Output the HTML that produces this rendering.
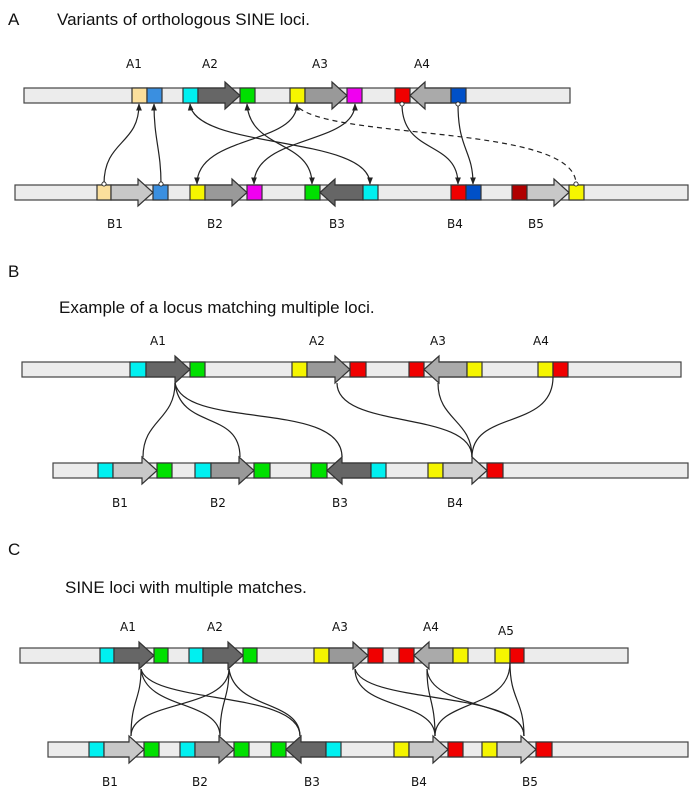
<!DOCTYPE html>
<html><head><meta charset="utf-8"><style>
html,body{margin:0;padding:0;background:#fff;}
svg{display:block;font-family:"DejaVu Sans","Liberation Sans",sans-serif;}
.bar{fill:#ececec;stroke:#444;stroke-width:1.2}
.s{stroke:#333;stroke-width:1.2}
.c{fill:none;stroke:#222;stroke-width:1.2}
.t{font-size:12px;fill:#111}
.h{font-size:17px;fill:#111;font-family:"Liberation Sans",sans-serif}
</style></head><body>
<svg width="695" height="789" viewBox="0 0 695 789" xmlns="http://www.w3.org/2000/svg">
<defs>
<marker id="ar" viewBox="0 0 10 10" refX="9" refY="5" markerWidth="6" markerHeight="6" orient="auto-start-reverse"><path d="M0,1 L10,5 L0,9 z" fill="#222"/></marker>
<marker id="ci" viewBox="0 0 10 10" refX="5" refY="5" markerWidth="5" markerHeight="5"><circle cx="5" cy="5" r="3.5" fill="#fff" stroke="#222" stroke-width="1.5"/></marker>
</defs>

<!-- Panel A -->
<text class="h" x="8" y="25">A</text>
<text class="h" x="57" y="25">Variants of orthologous SINE loci.</text>
<text class="t" x="126" y="68">A1</text><text class="t" x="202" y="68">A2</text><text class="t" x="312" y="68">A3</text><text class="t" x="414" y="68">A4</text>

<rect class="bar" x="24" y="88" width="546" height="15"/>
<rect class="s" x="132" y="88" width="15" height="15" fill="#fbdf9c"/>
<rect class="s" x="147" y="88" width="15" height="15" fill="#3a8fe0"/>
<rect class="s" x="183" y="88" width="15" height="15" fill="#00f0f0"/>
<polygon class="s" fill="#666" points="198,88 225,88 225,82 240,95.5 225,109 225,103 198,103"/>
<rect class="s" x="240" y="88" width="15" height="15" fill="#00e000"/>
<rect class="s" x="290" y="88" width="15" height="15" fill="#f5f500"/>
<polygon class="s" fill="#999" points="305,88 332,88 332,82 347,95.5 332,109 332,103 305,103"/>
<rect class="s" x="347" y="88" width="15" height="15" fill="#f000f0"/>
<rect class="s" x="395" y="88" width="15" height="15" fill="#f00000"/>
<polygon class="s" fill="#aaa" points="410,95.5 425,82 425,88 451,88 451,103 425,103 425,109"/>
<rect class="s" x="451" y="88" width="15" height="15" fill="#0050c8"/>

<rect class="bar" x="15" y="185" width="673" height="15"/>
<rect class="s" x="97" y="185" width="14" height="15" fill="#fbdf9c"/>
<polygon class="s" fill="#c8c8c8" points="111,185 138,185 138,179 153,192.5 138,206 138,200 111,200"/>
<rect class="s" x="153" y="185" width="15" height="15" fill="#3a8fe0"/>
<rect class="s" x="190" y="185" width="15" height="15" fill="#f5f500"/>
<polygon class="s" fill="#999" points="205,185 232,185 232,179 247,192.5 232,206 232,200 205,200"/>
<rect class="s" x="247" y="185" width="15" height="15" fill="#f000f0"/>
<rect class="s" x="305" y="185" width="15" height="15" fill="#00e000"/>
<polygon class="s" fill="#666" points="320,192.5 335,179 335,185 363,185 363,200 335,200 335,206"/>
<rect class="s" x="363" y="185" width="15" height="15" fill="#00f0f0"/>
<rect class="s" x="451" y="185" width="15" height="15" fill="#f00000"/>
<rect class="s" x="466" y="185" width="15" height="15" fill="#0050c8"/>
<rect class="s" x="512" y="185" width="15" height="15" fill="#b00000"/>
<polygon class="s" fill="#c8c8c8" points="527,185 554,185 554,179 569,192.5 554,206 554,200 527,200"/>
<rect class="s" x="569" y="185" width="15" height="15" fill="#f5f500"/>

<path class="c" d="M104,184 C104,140 139,145 139,104" marker-start="url(#ci)" marker-end="url(#ar)"/>
<path class="c" d="M161,184 C161,150 154,140 154,104" marker-start="url(#ci)" marker-end="url(#ar)"/>
<path class="c" d="M190,104 C195,150 370,135 370,184" marker-start="url(#ar)" marker-end="url(#ar)"/>
<path class="c" d="M247,104 C250,150 312,140 312,184" marker-start="url(#ar)" marker-end="url(#ar)"/>
<path class="c" d="M297,104 C297,145 197,135 197,184" marker-start="url(#ar)" marker-end="url(#ar)"/>
<path class="c" d="M355,104 C355,145 254,135 254,184" marker-start="url(#ar)" marker-end="url(#ar)"/>
<path class="c" d="M299,108 C340,140 576,125 576,184" stroke-dasharray="5,4" marker-end="url(#ci)"/>
<path class="c" d="M402,104 C402,155 458,140 458,184" marker-start="url(#ci)" marker-end="url(#ar)"/>
<path class="c" d="M458,104 C458,150 473,150 473,184" marker-start="url(#ci)" marker-end="url(#ar)"/>

<text class="t" x="107" y="228">B1</text><text class="t" x="207" y="228">B2</text><text class="t" x="329" y="228">B3</text><text class="t" x="447" y="228">B4</text><text class="t" x="528" y="228">B5</text>

<!-- Panel B -->
<text class="h" x="8" y="277">B</text>
<text class="h" x="59" y="313">Example of a locus matching multiple loci.</text>
<text class="t" x="150" y="345">A1</text><text class="t" x="309" y="345">A2</text><text class="t" x="430" y="345">A3</text><text class="t" x="533" y="345">A4</text>

<rect class="bar" x="22" y="362" width="659" height="15"/>
<rect class="s" x="130" y="362" width="16" height="15" fill="#00f0f0"/>
<polygon class="s" fill="#666" points="146,362 175,362 175,356 190,369.5 175,383 175,377 146,377"/>
<rect class="s" x="190" y="362" width="15" height="15" fill="#00e000"/>
<rect class="s" x="292" y="362" width="15" height="15" fill="#f5f500"/>
<polygon class="s" fill="#999" points="307,362 335,362 335,356 350,369.5 335,383 335,377 307,377"/>
<rect class="s" x="350" y="362" width="16" height="15" fill="#f00000"/>
<rect class="s" x="409" y="362" width="15" height="15" fill="#f00000"/>
<polygon class="s" fill="#aaa" points="424,369.5 439,356 439,362 467,362 467,377 439,377 439,383"/>
<rect class="s" x="467" y="362" width="15" height="15" fill="#f5f500"/>
<rect class="s" x="538" y="362" width="15" height="15" fill="#f5f500"/>
<rect class="s" x="553" y="362" width="15" height="15" fill="#f00000"/>

<rect class="bar" x="53" y="463" width="635" height="15"/>
<rect class="s" x="98" y="463" width="15" height="15" fill="#00f0f0"/>
<polygon class="s" fill="#c8c8c8" points="113,463 142,463 142,457 157,470.5 142,484 142,478 113,478"/>
<rect class="s" x="157" y="463" width="15" height="15" fill="#00e000"/>
<rect class="s" x="195" y="463" width="16" height="15" fill="#00f0f0"/>
<polygon class="s" fill="#999" points="211,463 239,463 239,457 254,470.5 239,484 239,478 211,478"/>
<rect class="s" x="254" y="463" width="16" height="15" fill="#00e000"/>
<rect class="s" x="311" y="463" width="16" height="15" fill="#00e000"/>
<polygon class="s" fill="#666" points="327,470.5 342,457 342,463 371,463 371,478 342,478 342,484"/>
<rect class="s" x="371" y="463" width="15" height="15" fill="#00f0f0"/>
<rect class="s" x="428" y="463" width="15" height="15" fill="#f5f500"/>
<polygon class="s" fill="#d0d0d0" points="443,463 472,463 472,457 487,470.5 472,484 472,478 443,478"/>
<rect class="s" x="487" y="463" width="16" height="15" fill="#f00000"/>

<path class="c" d="M175,383 C175,420 143,420 143,457"/>
<path class="c" d="M175,383 C180,430 240,410 240,457"/>
<path class="c" d="M175,383 C185,430 342,400 342,457"/>
<path class="c" d="M337,383 C337,430 472,410 472,457"/>
<path class="c" d="M438,383 C438,420 472,420 472,457"/>
<path class="c" d="M553,377 C553,430 472,410 472,457"/>

<text class="t" x="112" y="507">B1</text><text class="t" x="210" y="507">B2</text><text class="t" x="332" y="507">B3</text><text class="t" x="447" y="507">B4</text>

<!-- Panel C -->
<text class="h" x="8" y="555">C</text>
<text class="h" x="65" y="593">SINE loci with multiple matches.</text>
<text class="t" x="120" y="631">A1</text><text class="t" x="207" y="631">A2</text><text class="t" x="332" y="631">A3</text><text class="t" x="423" y="631">A4</text><text class="t" x="498" y="635">A5</text>

<rect class="bar" x="20" y="648" width="608" height="15"/>
<rect class="s" x="100" y="648" width="14" height="15" fill="#00f0f0"/>
<polygon class="s" fill="#666" points="114,648 139,648 139,642 154,655.5 139,669 139,663 114,663"/>
<rect class="s" x="154" y="648" width="14" height="15" fill="#00e000"/>
<rect class="s" x="189" y="648" width="14" height="15" fill="#00f0f0"/>
<polygon class="s" fill="#666" points="203,648 228,648 228,642 243,655.5 228,669 228,663 203,663"/>
<rect class="s" x="243" y="648" width="14" height="15" fill="#00e000"/>
<rect class="s" x="314" y="648" width="15" height="15" fill="#f5f500"/>
<polygon class="s" fill="#999" points="329,648 353,648 353,642 368,655.5 353,669 353,663 329,663"/>
<rect class="s" x="368" y="648" width="15" height="15" fill="#f00000"/>
<rect class="s" x="399" y="648" width="15" height="15" fill="#f00000"/>
<polygon class="s" fill="#aaa" points="414,655.5 429,642 429,648 453,648 453,663 429,663 429,669"/>
<rect class="s" x="453" y="648" width="15" height="15" fill="#f5f500"/>
<rect class="s" x="495" y="648" width="15" height="15" fill="#f5f500"/>
<rect class="s" x="510" y="648" width="14" height="15" fill="#f00000"/>

<rect class="bar" x="48" y="742" width="640" height="15"/>
<rect class="s" x="89" y="742" width="15" height="15" fill="#00f0f0"/>
<polygon class="s" fill="#c8c8c8" points="104,742 129,742 129,736 144,749.5 129,763 129,757 104,757"/>
<rect class="s" x="144" y="742" width="15" height="15" fill="#00e000"/>
<rect class="s" x="180" y="742" width="15" height="15" fill="#00f0f0"/>
<polygon class="s" fill="#999" points="195,742 219,742 219,736 234,749.5 219,763 219,757 195,757"/>
<rect class="s" x="234" y="742" width="15" height="15" fill="#00e000"/>
<rect class="s" x="271" y="742" width="15" height="15" fill="#00e000"/>
<polygon class="s" fill="#666" points="286,749.5 301,736 301,742 326,742 326,757 301,757 301,763"/>
<rect class="s" x="326" y="742" width="15" height="15" fill="#00f0f0"/>
<rect class="s" x="394" y="742" width="15" height="15" fill="#f5f500"/>
<polygon class="s" fill="#c8c8c8" points="409,742 433,742 433,736 448,749.5 433,763 433,757 409,757"/>
<rect class="s" x="448" y="742" width="15" height="15" fill="#f00000"/>
<rect class="s" x="482" y="742" width="15" height="15" fill="#f5f500"/>
<polygon class="s" fill="#d0d0d0" points="497,742 521,742 521,736 536,749.5 521,763 521,757 497,757"/>
<rect class="s" x="536" y="742" width="16" height="15" fill="#f00000"/>

<path class="c" d="M141,669 C141,700 131,700 131,736"/>
<path class="c" d="M141,669 C145,710 220,700 220,736"/>
<path class="c" d="M141,669 C150,705 300,690 300,736"/>
<path class="c" d="M229,669 C229,710 131,700 131,736"/>
<path class="c" d="M229,669 C229,700 220,700 220,736"/>
<path class="c" d="M229,669 C235,710 300,700 300,736"/>
<path class="c" d="M355,669 C355,710 435,700 435,736"/>
<path class="c" d="M355,669 C365,705 524,690 524,736"/>
<path class="c" d="M427,669 C427,700 435,700 435,736"/>
<path class="c" d="M427,669 C430,710 524,700 524,736"/>
<path class="c" d="M510,663 C510,710 435,700 435,736"/>
<path class="c" d="M510,663 C510,700 524,700 524,736"/>

<text class="t" x="102" y="786">B1</text><text class="t" x="192" y="786">B2</text><text class="t" x="304" y="786">B3</text><text class="t" x="411" y="786">B4</text><text class="t" x="522" y="786">B5</text>
</svg>
</body></html>
